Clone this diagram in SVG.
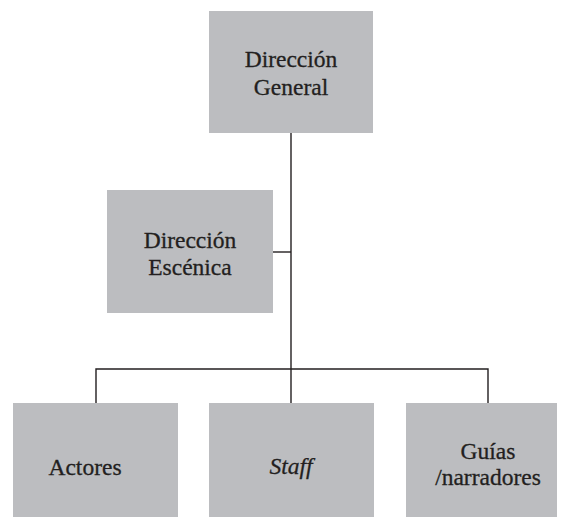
<svg xmlns="http://www.w3.org/2000/svg" width="563" height="517" viewBox="0 0 563 517">
<style>
.box{fill:#bcbdc0}
.t{font-family:"Liberation Serif","Times New Roman",serif;font-size:23.5px;fill:#231f20;stroke:#231f20;stroke-width:0.3;text-anchor:middle}
.c{stroke:#231f20;stroke-width:1.4;fill:none}
</style>
<rect width="563" height="517" fill="#ffffff"/>
<g id="connectors">
<line class="c" x1="291" y1="133" x2="291" y2="403"/>
<line class="c" x1="273" y1="252" x2="291" y2="252"/>
<polyline class="c" points="96,403 96,369 488,369 488,403"/>
</g>
<g id="direccion-general">
<rect class="box" x="209" y="11" width="164" height="122"/>
<text class="t" x="291" y="67">Dirección</text>
<text class="t" x="291" y="95">General</text>
</g>
<g id="direccion-escenica">
<rect class="box" x="107" y="190" width="166" height="123"/>
<text class="t" x="190" y="248">Dirección</text>
<text class="t" x="190" y="275">Escénica</text>
</g>
<g id="actores">
<rect class="box" x="13" y="403" width="165" height="114"/>
<text class="t" x="85" y="475">Actores</text>
</g>
<g id="staff">
<rect class="box" x="209" y="403" width="165" height="114"/>
<text class="t" x="291" y="474" font-style="italic">Staff</text>
</g>
<g id="guias">
<rect class="box" x="406" y="403" width="151" height="114"/>
<text class="t" x="488" y="459">Guías</text>
<text class="t" x="488" y="485">/narradores</text>
</g>
</svg>
